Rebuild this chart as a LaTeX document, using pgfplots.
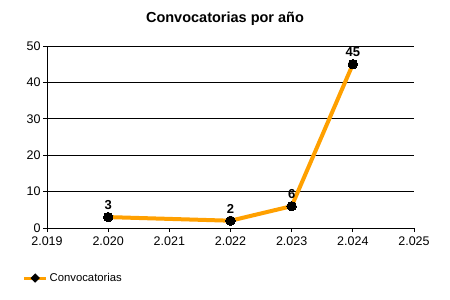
\documentclass[border=0pt]{standalone}
\usepackage{fontspec}
\setmainfont{Liberation Sans}
\usepackage{pgfplots}
\pgfplotsset{compat=1.18}
\definecolor{lineorange}{RGB}{255,160,0}
\begin{document}
\begin{tikzpicture}[x=1pt,y=1pt]
\path (0,0) rectangle (450,300);
\node[font=\bfseries\fontsize{14.5}{17}\selectfont] at (225,281) {Convocatorias por año};
\begin{axis}[
  at={(47pt,72pt)}, anchor=south west,
  scale only axis, width=367pt, height=182pt,
  xmin=2019, xmax=2025, ymin=0, ymax=50,
  xtick={2019,2020,2021,2022,2023,2024,2025},
  xticklabels={2.019,2.020,2.021,2.022,2.023,2.024,2.025},
  ytick={0,10,20,30,40,50},
  axis x line*=bottom, axis y line*=left,
  axis line style={black, line width=0.8pt, -},
  tick align=outside, major tick length=4pt,
  tick style={black, line width=0.8pt},
  ymajorgrids, grid style={black, line width=0.8pt},
  ticklabel style={font=\fontsize{12.5}{14}\selectfont},
  xticklabel style={yshift=-1pt},
  yticklabel style={xshift=1pt},
  /pgf/number format/assume math mode=true,
  clip=false,
  nodes near coords,
  nodes near coords style={font=\bfseries\fontsize{13}{15}\selectfont, anchor=south, yshift=4pt},
  legend style={at={(-0.075,-0.275)}, anchor=west, draw=none, fill=none, font=\fontsize{11.3}{13}\selectfont},
  legend cell align=left,
]
\addplot[lineorange, line width=4pt, mark=*, mark size=4.7pt, mark options={black, fill=black, line width=0pt},
  legend image code/.code={\draw[lineorange, line width=3pt] (0pt,0pt) -- (22pt,0pt); \fill[black] (11pt,0pt) circle (1.8pt);}]
  coordinates {(2020,3) (2022,2) (2023,6) (2024,45)};
\addlegendentry{Convocatorias}
\end{axis}
\end{tikzpicture}
\end{document}
